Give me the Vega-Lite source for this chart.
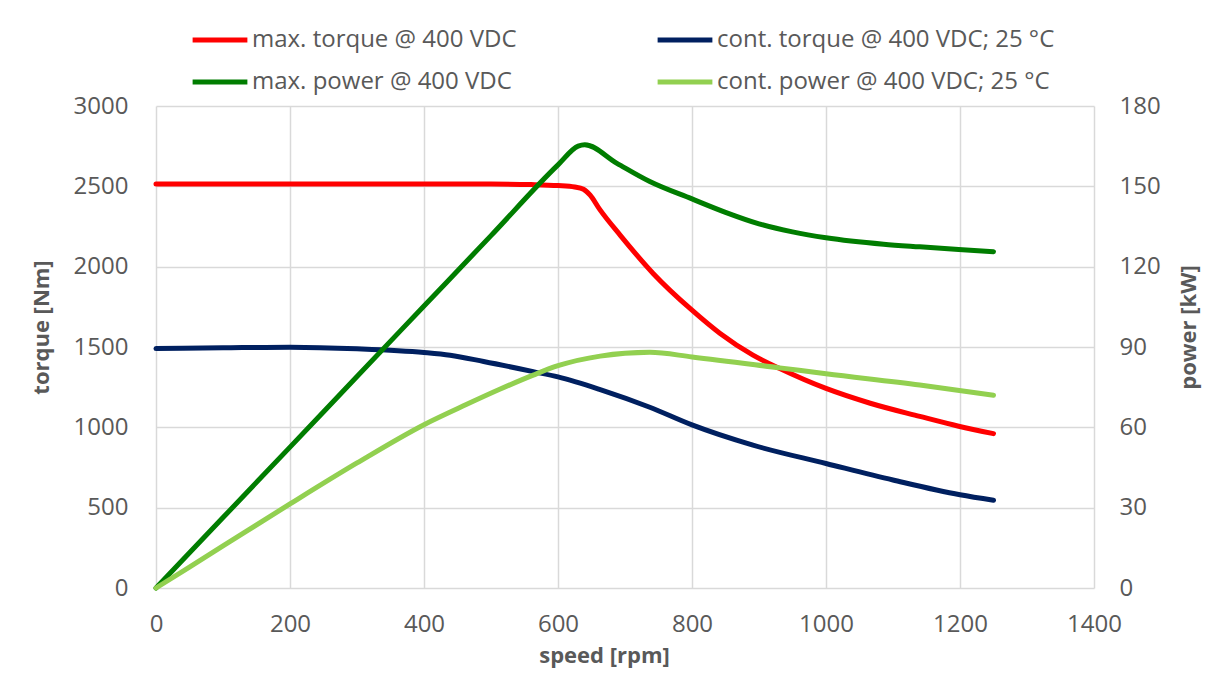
{
  "$schema": "https://vega.github.io/schema/vega-lite/v6.json",
  "width": 938,
  "height": 482,
  "autosize": {"type": "none"},
  "padding": {"left": 156, "top": 106, "right": 119, "bottom": 92},
  "background": "white",
  "config": {
    "font": "Open Sans",
    "view": {"stroke": null},
    "axis": {
      "domain": false,
      "ticks": false,
      "labelFlush": false,
      "gridColor": "#d9d9d9",
      "gridWidth": 1.5,
      "labelFontSize": 24,
      "labelColor": "#595959",
      "labelFont": "Open Sans",
      "titleFontSize": 22,
      "titleFontWeight": "bold",
      "titleColor": "#595959",
      "titleFont": "Open Sans",
      "format": "d"
    }
  },
  "datasets": {
    "torque": [
      {"speed": 0, "torque": 2515, "series": "max. torque @ 400 VDC"},
      {"speed": 100, "torque": 2515, "series": "max. torque @ 400 VDC"},
      {"speed": 200, "torque": 2515, "series": "max. torque @ 400 VDC"},
      {"speed": 300, "torque": 2515, "series": "max. torque @ 400 VDC"},
      {"speed": 400, "torque": 2515, "series": "max. torque @ 400 VDC"},
      {"speed": 500, "torque": 2514, "series": "max. torque @ 400 VDC"},
      {"speed": 560, "torque": 2511, "series": "max. torque @ 400 VDC"},
      {"speed": 600, "torque": 2505, "series": "max. torque @ 400 VDC"},
      {"speed": 625, "torque": 2496, "series": "max. torque @ 400 VDC"},
      {"speed": 638, "torque": 2482, "series": "max. torque @ 400 VDC"},
      {"speed": 648, "torque": 2445, "series": "max. torque @ 400 VDC"},
      {"speed": 662, "torque": 2358, "series": "max. torque @ 400 VDC"},
      {"speed": 693, "torque": 2195, "series": "max. torque @ 400 VDC"},
      {"speed": 742, "torque": 1958, "series": "max. torque @ 400 VDC"},
      {"speed": 800, "torque": 1729, "series": "max. torque @ 400 VDC"},
      {"speed": 842, "torque": 1584, "series": "max. torque @ 400 VDC"},
      {"speed": 891, "torque": 1449, "series": "max. torque @ 400 VDC"},
      {"speed": 931, "torque": 1366, "series": "max. torque @ 400 VDC"},
      {"speed": 1000, "torque": 1242, "series": "max. torque @ 400 VDC"},
      {"speed": 1066, "torque": 1150, "series": "max. torque @ 400 VDC"},
      {"speed": 1140, "torque": 1068, "series": "max. torque @ 400 VDC"},
      {"speed": 1198, "torque": 1007, "series": "max. torque @ 400 VDC"},
      {"speed": 1250, "torque": 961, "series": "max. torque @ 400 VDC"},
      {"speed": 0, "torque": 1490, "series": "cont. torque @ 400 VDC; 25 °C"},
      {"speed": 100, "torque": 1495, "series": "cont. torque @ 400 VDC; 25 °C"},
      {"speed": 200, "torque": 1499, "series": "cont. torque @ 400 VDC; 25 °C"},
      {"speed": 300, "torque": 1489, "series": "cont. torque @ 400 VDC; 25 °C"},
      {"speed": 400, "torque": 1466, "series": "cont. torque @ 400 VDC; 25 °C"},
      {"speed": 439, "torque": 1449, "series": "cont. torque @ 400 VDC; 25 °C"},
      {"speed": 489, "torque": 1410, "series": "cont. torque @ 400 VDC; 25 °C"},
      {"speed": 563, "torque": 1347, "series": "cont. torque @ 400 VDC; 25 °C"},
      {"speed": 600, "torque": 1314, "series": "cont. torque @ 400 VDC; 25 °C"},
      {"speed": 663, "torque": 1235, "series": "cont. torque @ 400 VDC; 25 °C"},
      {"speed": 737, "torque": 1125, "series": "cont. torque @ 400 VDC; 25 °C"},
      {"speed": 800, "torque": 1015, "series": "cont. torque @ 400 VDC; 25 °C"},
      {"speed": 891, "torque": 889, "series": "cont. torque @ 400 VDC; 25 °C"},
      {"speed": 1000, "torque": 775, "series": "cont. torque @ 400 VDC; 25 °C"},
      {"speed": 1100, "torque": 672, "series": "cont. torque @ 400 VDC; 25 °C"},
      {"speed": 1200, "torque": 580, "series": "cont. torque @ 400 VDC; 25 °C"},
      {"speed": 1250, "torque": 546, "series": "cont. torque @ 400 VDC; 25 °C"}
    ],
    "power": [
      {"speed": 0, "power": 0, "series": "max. power @ 400 VDC"},
      {"speed": 100, "power": 26.3, "series": "max. power @ 400 VDC"},
      {"speed": 200, "power": 52.6, "series": "max. power @ 400 VDC"},
      {"speed": 300, "power": 79, "series": "max. power @ 400 VDC"},
      {"speed": 400, "power": 105.3, "series": "max. power @ 400 VDC"},
      {"speed": 500, "power": 131.6, "series": "max. power @ 400 VDC"},
      {"speed": 600, "power": 158, "series": "max. power @ 400 VDC"},
      {"speed": 630, "power": 165, "series": "max. power @ 400 VDC"},
      {"speed": 640, "power": 165.5, "series": "max. power @ 400 VDC"},
      {"speed": 688, "power": 158.6, "series": "max. power @ 400 VDC"},
      {"speed": 737, "power": 151.8, "series": "max. power @ 400 VDC"},
      {"speed": 800, "power": 145.3, "series": "max. power @ 400 VDC"},
      {"speed": 850, "power": 140.3, "series": "max. power @ 400 VDC"},
      {"speed": 900, "power": 136, "series": "max. power @ 400 VDC"},
      {"speed": 950, "power": 133, "series": "max. power @ 400 VDC"},
      {"speed": 1000, "power": 130.8, "series": "max. power @ 400 VDC"},
      {"speed": 1086, "power": 128.4, "series": "max. power @ 400 VDC"},
      {"speed": 1140, "power": 127.4, "series": "max. power @ 400 VDC"},
      {"speed": 1198, "power": 126.4, "series": "max. power @ 400 VDC"},
      {"speed": 1250, "power": 125.6, "series": "max. power @ 400 VDC"},
      {"speed": 0, "power": 0, "series": "cont. power @ 400 VDC; 25 °C"},
      {"speed": 100, "power": 15.7, "series": "cont. power @ 400 VDC; 25 °C"},
      {"speed": 200, "power": 31.4, "series": "cont. power @ 400 VDC; 25 °C"},
      {"speed": 300, "power": 46.7, "series": "cont. power @ 400 VDC; 25 °C"},
      {"speed": 400, "power": 61, "series": "cont. power @ 400 VDC; 25 °C"},
      {"speed": 463, "power": 68.5, "series": "cont. power @ 400 VDC; 25 °C"},
      {"speed": 513, "power": 74.2, "series": "cont. power @ 400 VDC; 25 °C"},
      {"speed": 563, "power": 79.5, "series": "cont. power @ 400 VDC; 25 °C"},
      {"speed": 600, "power": 83, "series": "cont. power @ 400 VDC; 25 °C"},
      {"speed": 663, "power": 86.6, "series": "cont. power @ 400 VDC; 25 °C"},
      {"speed": 737, "power": 88, "series": "cont. power @ 400 VDC; 25 °C"},
      {"speed": 800, "power": 86.3, "series": "cont. power @ 400 VDC; 25 °C"},
      {"speed": 931, "power": 82.2, "series": "cont. power @ 400 VDC; 25 °C"},
      {"speed": 1000, "power": 80, "series": "cont. power @ 400 VDC; 25 °C"},
      {"speed": 1140, "power": 75.8, "series": "cont. power @ 400 VDC; 25 °C"},
      {"speed": 1250, "power": 72, "series": "cont. power @ 400 VDC; 25 °C"}
    ]
  },
  "layer": [
    {
      "data": {"name": "torque"},
      "mark": {"type": "line", "strokeWidth": 5, "interpolate": "monotone", "strokeCap": "round", "strokeJoin": "round"},
      "encoding": {
        "x": {
          "field": "speed", "type": "quantitative",
          "scale": {"domain": [0, 1400], "nice": false},
          "axis": {"values": [0, 200, 400, 600, 800, 1000, 1200, 1400], "title": "speed [rpm]", "labelPadding": 24, "titlePadding": 9, "titleX": 448}
        },
        "y": {
          "field": "torque", "type": "quantitative",
          "scale": {"domain": [0, 3000], "nice": false},
          "axis": {"values": [0, 500, 1000, 1500, 2000, 2500, 3000], "title": "torque [Nm]", "labelPadding": 28, "titlePadding": 20, "titleY": 221}
        },
        "color": {
          "field": "series", "type": "nominal",
          "scale": {
            "domain": ["max. torque @ 400 VDC", "cont. torque @ 400 VDC; 25 °C", "max. power @ 400 VDC", "cont. power @ 400 VDC; 25 °C"],
            "range": ["#ff0000", "#002060", "#007d00", "#92d050"]
          },
          "legend": {
            "title": null,
            "orient": "none",
            "legendX": 34,
            "legendY": -96,
            "direction": "horizontal",
            "columns": 2,
            "symbolType": "stroke",
            "symbolSize": 3000,
            "symbolStrokeWidth": 5,
            "labelFontSize": 24,
            "labelColor": "#595959",
            "labelFont": "Open Sans",
            "labelOffset": 2,
            "labelLimit": 500,
            "columnPadding": 130,
            "rowPadding": -7
          }
        }
      }
    },
    {
      "data": {"name": "power"},
      "mark": {"type": "line", "strokeWidth": 5, "interpolate": "monotone", "strokeCap": "round", "strokeJoin": "round"},
      "encoding": {
        "x": {"field": "speed", "type": "quantitative"},
        "y": {
          "field": "power", "type": "quantitative",
          "scale": {"domain": [0, 180], "nice": false},
          "axis": {"orient": "right", "grid": false, "values": [0, 30, 60, 90, 120, 150, 180], "title": "power [kW]", "titleAngle": 270, "labelPadding": 25, "titlePadding": 40, "titleY": 221}
        },
        "color": {"field": "series", "type": "nominal"}
      }
    }
  ],
  "resolve": {"scale": {"y": "independent"}}
}
